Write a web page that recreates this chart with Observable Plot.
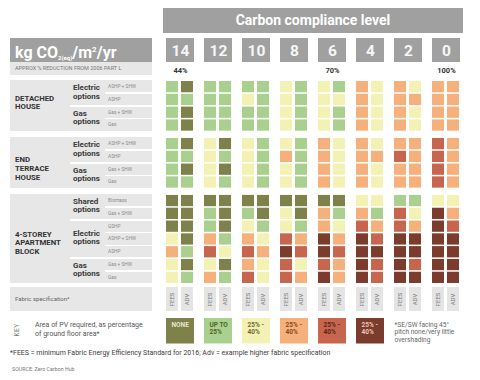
<!DOCTYPE html>
<html><head><meta charset="utf-8">
<script src="https://cdn.jsdelivr.net/npm/d3@7"></script>
<script src="https://cdn.jsdelivr.net/npm/@observablehq/plot@0.6"></script>
<style>
body{margin:0;background:#fff;font-family:Roboto,"Open Sans",sans-serif;}
#wrap{position:relative;width:480px;height:380px;overflow:hidden;background:#fff;}
#wrap > div.a{position:absolute;box-sizing:border-box;}
#wrap svg{position:absolute;left:0;top:0;}
</style></head><body><div id="wrap"></div>
<script>
// ---------- data ----------
const levels = ["14","12","10","8","6","4","2","0"];
const reductions = ["44%","","","","70%","","","100%"];
const specs = ["FEES","ADV"];
const buildings = ["DETACHED\nHOUSE","END\nTERRACE\nHOUSE","4-STOREY\nAPARTMENT\nBLOCK"];
const detachedOptions = ["ASHP + SHW","ASHP","Gas + SHW","Gas"];
const terraceOptions = ["ASHP + SHW","ASHP","Gas + SHW","Gas"];
const apartmentOptions = ["Biomass","Gas + SHW","GSHP","ASHP + SHW","ASHP","Gas + SHW","Gas"];
const detachedGroups = [["Electric\noptions",2],["Gas\noptions",2]];
const terraceGroups = [["Electric\noptions",2],["Gas\noptions",2]];
const apartmentGroups = [["Shared\noptions",2],["Electric\noptions",3],["Gas\noptions",2]];
// PV category per level: [FEES rows, ADV rows]; 0 none,1 up to 25%,2..5 = 25%-40% shades
const detachedPV = [
 [[1,1,1,1],[0,1,0,0]],
 [[1,1,1,1],[1,1,1,1]],
 [[1,2,1,1],[1,1,1,1]],
 [[2,2,2,2],[1,1,1,1]],
 [[2,2,2,2],[1,2,1,1]],
 [[3,3,3,3],[2,2,2,2]],
 [[3,3,3,3],[2,3,2,2]],
 [[3,3,3,3],[3,3,3,3]]
];
const terracePV = [
 [[1,1,1,1],[0,1,0,1]],
 [[2,2,2,2],[0,1,0,1]],
 [[2,2,2,2],[1,1,1,1]],
 [[2,3,2,2],[1,1,1,1]],
 [[3,3,3,3],[2,2,2,2]],
 [[3,3,3,3],[2,3,2,2]],
 [[3,4,3,3],[3,3,3,3]],
 [[4,4,4,4],[3,3,3,3]]
];
const apartmentPV = [
 [[0,0,0,2,3,2,2],[0,0,0,0,1,0,1]],
 [[0,1,1,3,4,2,3],[0,0,0,1,2,0,1]],
 [[0,1,2,3,4,3,4],[0,0,1,2,3,2,2]],
 [[0,2,2,4,5,4,4],[0,0,1,3,4,2,3]],
 [[0,3,3,5,5,4,5],[0,1,2,3,4,3,3]],
 [[2,3,4,5,5,5,5],[2,1,3,4,5,4,4]],
 [[1,4,4,5,5,5,5],[1,2,3,5,5,4,5]],
 [[2,5,5,5,5,5,5],[2,3,4,5,5,5,5]]
];
const keyLabels = ["NONE","UP TO\n25%","25% -\n40%","25% -\n40%","25% -\n40%","25% -\n40%"];
const pvColors = ["#7e8149","#a9d08e","#f4f1b5","#f5b07b","#c8654f","#7b3c2d"];
const keyTextColors = ["#e6e6cf","#55602a","#6e6a2e","#8a4a22","#5e2414","#efc5b5"];
const keyNote = "*SE/SW facing 45°\npitch none/very little\novershading";

// ---------- layout ----------
const U = 12.8, Y0 = 81;            // px per row, px of first row
const u = px => (px - Y0) / U;       // px -> row units
const py = v => Y0 + v * U;          // row units -> px
const GAP = 0.45;
const sections = [
  {name: buildings[0], options: detachedOptions, groups: detachedGroups, pv: detachedPV, shift: -2},
  {name: buildings[1], options: terraceOptions, groups: terraceGroups, pv: terracePV, shift: 7},
  {name: buildings[2], options: apartmentOptions, groups: apartmentGroups, pv: apartmentPV, shift: 5}
];
let acc = 0;
sections.forEach(s => { s.off = acc; acc += s.options.length + GAP; });

const cells = [];
sections.forEach(s => {
  levels.forEach((lv, li) => {
    specs.forEach((sp, si) => {
      s.pv[li][si].forEach((v, r) => cells.push({level: lv, spec: sp, y1: s.off + r, y2: s.off + r + 0.88, pv: v}));
    });
  });
});
const tags = levels.flatMap(lv => specs.map(sp => ({level: lv, spec: sp})));
const pct = levels.map((lv, i) => ({level: lv, t: reductions[i]}));
const keyData = keyLabels.map((label, i) => ({level: levels[i], label, pv: i}));

const chart = Plot.plot({
  width: 480, height: 380,
  marginLeft: 163, marginRight: 17, marginTop: 0, marginBottom: 0,
  fx: {domain: levels, paddingInner: 0.27, paddingOuter: 0, axis: null, label: null},
  x: {domain: specs, paddingInner: 0.17, paddingOuter: 0, axis: null},
  y: {domain: [u(0), u(380)], range: [0, 380], axis: null},
  color: {type: "ordinal", domain: [0,1,2,3,4,5], range: pvColors},
  style: {fontFamily: "Roboto, sans-serif", background: "transparent"},
  marks: [
    Plot.rect(levels, {fx: d => d, y1: u(38), y2: u(62), fill: "#a0a0a0"}),
    Plot.text(levels, {fx: d => d, y: u(50.5), text: d => d, fill: "#f6f6f6", fontSize: 15.5, fontWeight: "bold"}),
    Plot.text(pct, {fx: "level", y: u(70.5), text: "t", fill: "#333", fontSize: 7.5, fontWeight: "bold"}),
    Plot.barY(cells, {fx: "level", x: "spec", y1: "y1", y2: "y2", fill: "pv"}),
    Plot.barY(tags, {fx: "level", x: "spec", y1: u(287), y2: u(311), fill: "#e4e4e4"}),
    Plot.text(tags, {fx: "level", x: "spec", y: u(299), text: "spec", rotate: -90, fill: "#7a7a7a", fontSize: 6}),
    Plot.rect(keyData, {fx: "level", y1: u(318), y2: u(343.5), fill: "pv"}),
    ...keyData.map(d => Plot.text([d], {fx: "level", y: u(322), text: "label", frameAnchor: "left", textAnchor: "start", lineAnchor: "top", dx: 5, fill: keyTextColors[d.pv], fontSize: 6.5, fontWeight: "bold", lineHeight: 1.05})),
    Plot.text([{level: "2", t: keyNote}], {fx: "level", y: u(321), text: "t", frameAnchor: "left", textAnchor: "start", lineAnchor: "top", fill: "#666", fontSize: 6.6, lineHeight: 1.15})
  ]
});
const wrap = document.getElementById("wrap");
wrap.appendChild(chart);

function box(left, top, width, height, css, html) {
  const d = document.createElement("div");
  d.className = "a";
  d.style.cssText = css;
  d.style.left = left + "px"; d.style.top = top + "px";
  if (width != null) d.style.width = width + "px";
  if (height != null) d.style.height = height + "px";
  d.innerHTML = html || "";
  wrap.appendChild(d);
  return d;
}
// headers
box(163, 8, 300, 25, "background:#a0a0a0;color:#fff;font-weight:700;font-size:14px;line-height:25px;text-align:center", "Carbon compliance level");
box(10, 38, 142, 24, "background:#a0a0a0;color:#fff;font-weight:700;font-size:16px;line-height:24px;padding-left:5px;white-space:nowrap",
  'kg CO<span style="font-size:6px;vertical-align:-2px">2(eq)</span>/m<span style="font-size:8px;vertical-align:6px">2</span>/yr');
box(10, 62, 142, 12.5, "background:#e7e7e7;color:#777;font-size:5.5px;line-height:12.5px;padding-left:5px;white-space:nowrap", "APPROX % REDUCTION FROM 2006 PART L");

// row panels
sections.forEach(s => {
  const n = s.options.length, top = py(s.off) - 1, h = n * U - 0.5;
  box(10, top, 142, h, "background:#e7e7e7");
  const starts = new Set(); let g = 0;
  s.groups.forEach(([label, c]) => {
    starts.add(g);
    box(73, py(s.off + g) - 1, 34, c * U - 0.5, "display:flex;align-items:center;font-weight:700;font-size:8px;line-height:8.5px;color:#3a3a3a;white-space:pre-line", label);
    g += c;
  });
  for (let r = 1; r < n; r++) {
    const x0 = starts.has(r) ? 70 : 105;
    box(x0, py(s.off + r) - 1.5, 152 - x0, 1.5, "background:#fff");
  }
  s.options.forEach((o, r) => box(108, py(s.off + r), 44, U - 1.5, `font-size:4.8px;color:#8a8a8a;line-height:${U - 1.5}px;white-space:nowrap`, o));
  box(15, top + s.shift, 56, h, "display:flex;align-items:center;font-weight:700;font-size:7.8px;line-height:8.6px;color:#333;white-space:pre-line", s.name);
});
box(10, 287, 142, 23.5, "background:#e7e7e7;color:#666;font-size:6px;line-height:23.5px;padding-left:5px", "Fabric specification*");

// key + notes
box(7, 326, 20, 8, "transform:rotate(-90deg);font-size:6.5px;color:#777;letter-spacing:0.5px;text-align:center;line-height:8px", "KEY");
box(35, 321, 125, null, "font-size:7px;line-height:8.5px;color:#555", "Area of PV required, as percentage<br>of ground floor area*");
box(10, 349, 470, null, "font-size:7px;color:#3d3d3d;white-space:nowrap", "*FEES = minimum Fabric Energy Efficiency Standard for 2016; Adv = example higher fabric specification");
box(12, 366, 200, null, "font-size:5.3px;color:#777", "SOURCE: Zero Carbon Hub");
</script></body></html>
